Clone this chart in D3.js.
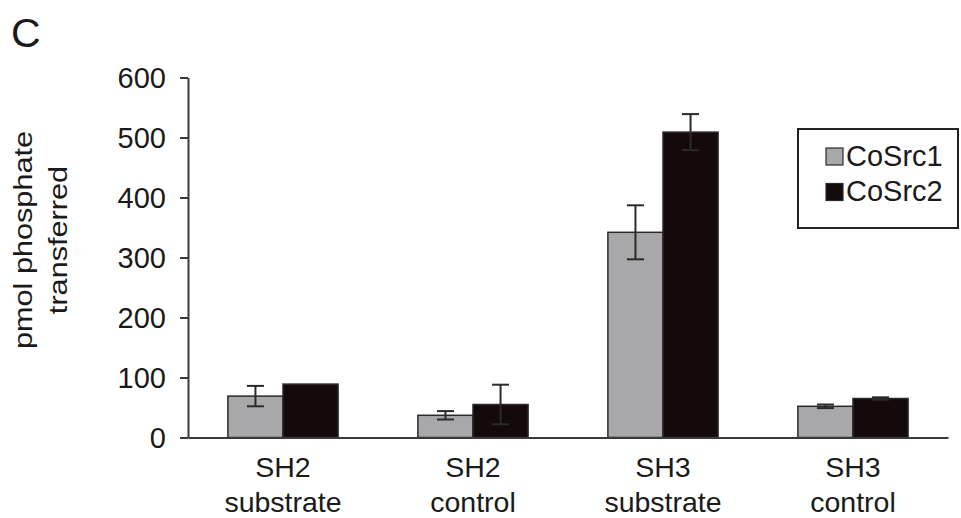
<!DOCTYPE html>
<html>
<head>
<meta charset="utf-8">
<script src="https://cdn.jsdelivr.net/npm/d3@7"></script>
<style>
  html, body { margin: 0; padding: 0; background: #fff; }
  svg { display: block; }
  text { font-family: "Liberation Sans", Arial, Helvetica, sans-serif; fill: #1a1a1a; }
</style>
</head>
<body>
<svg id="chart" width="961" height="518"></svg>
<script>
// Kinase activity toward SH2 / SH3 substrates and controls
const categories = [["SH2", "substrate"], ["SH2", "control"], ["SH3", "substrate"], ["SH3", "control"]];
const seriesNames = ["CoSrc1", "CoSrc2"];
const cosrc1Values = [69, 37, 342, 52];
const cosrc1Errors = [17, 7, 45, 3];
const cosrc2Values = [89, 55, 509, 65];
const cosrc2Errors = [0, 33, 30, 2];
const yTicks = [0, 100, 200, 300, 400, 500, 600];
const yTitle = ["pmol phosphate", "transferred"];
const panelLabel = "C";

const colors = { CoSrc1: "#a8a8ab", CoSrc2: "#140a0b" };

const svg = d3.select("#chart");
const margin = { left: 188, right: 13, top: 77.5, bottom: 80.5 };
const W = 961, H = 518;

const keys = categories.map(c => c.join(" "));
const x0 = d3.scaleBand()
  .domain(keys)
  .range([margin.left, W - margin.right])
  .paddingInner(0.42)
  .paddingOuter(0.21);
const x1 = d3.scaleBand()
  .domain(seriesNames)
  .range([0, x0.bandwidth()]);
const y = d3.scaleLinear()
  .domain([0, 600])
  .range([H - margin.bottom, margin.top]);

const rows = keys.map((k, i) => ({
  key: k,
  label: categories[i],
  bars: [
    { name: "CoSrc1", value: cosrc1Values[i], err: cosrc1Errors[i] },
    { name: "CoSrc2", value: cosrc2Values[i], err: cosrc2Errors[i] }
  ]
}));

// bars
const groups = svg.append("g").selectAll("g")
  .data(rows).join("g")
  .attr("transform", d => `translate(${x0(d.key)},0)`);

groups.selectAll("rect")
  .data(d => d.bars).join("rect")
  .attr("x", d => x1(d.name))
  .attr("y", d => y(d.value))
  .attr("width", x1.bandwidth())
  .attr("height", d => y(0) - y(d.value))
  .attr("fill", d => colors[d.name])
  .attr("stroke", "#2a2a2a")
  .attr("stroke-width", 1.5);

// error bars
const capHalf = 8.5;
const eb = groups.selectAll("g.err")
  .data(d => d.bars.filter(b => b.err > 0)).join("g")
  .attr("class", "err")
  .attr("stroke", "#2a2a2a")
  .attr("stroke-width", 2);
eb.append("line")
  .attr("x1", d => x1(d.name) + x1.bandwidth() / 2)
  .attr("x2", d => x1(d.name) + x1.bandwidth() / 2)
  .attr("y1", d => y(d.value - d.err))
  .attr("y2", d => y(d.value + d.err));
eb.append("line")
  .attr("x1", d => x1(d.name) + x1.bandwidth() / 2 - capHalf)
  .attr("x2", d => x1(d.name) + x1.bandwidth() / 2 + capHalf)
  .attr("y1", d => y(d.value + d.err))
  .attr("y2", d => y(d.value + d.err));
eb.append("line")
  .attr("x1", d => x1(d.name) + x1.bandwidth() / 2 - capHalf)
  .attr("x2", d => x1(d.name) + x1.bandwidth() / 2 + capHalf)
  .attr("y1", d => y(d.value - d.err))
  .attr("y2", d => y(d.value - d.err));

// y axis
const yAxis = svg.append("g")
  .attr("transform", `translate(${margin.left},0)`)
  .call(d3.axisLeft(y).tickValues(yTicks).tickSize(8).tickPadding(14).tickSizeOuter(0));
yAxis.select(".domain").attr("stroke", "#3a3a3a").attr("stroke-width", 2);
yAxis.selectAll(".tick line").attr("stroke", "#3a3a3a").attr("stroke-width", 2);
yAxis.selectAll(".tick text")
  .attr("font-size", 29)
  .attr("font-family", "'Liberation Sans', Arial, sans-serif")
  .attr("fill", "#1a1a1a")
  .attr("dy", "0.36em");

// x axis baseline
const xAxis = svg.append("g")
  .attr("transform", `translate(0,${y(0)})`)
  .call(d3.axisBottom(x0).tickSize(0).tickFormat(""));
xAxis.select(".domain").attr("stroke", "#3a3a3a").attr("stroke-width", 2);

// two-line category labels
const xl = svg.append("g").selectAll("text")
  .data(rows).join("text")
  .attr("text-anchor", "middle")
  .attr("font-size", 28.5)
  .attr("transform", d => `translate(${x0(d.key) + x0.bandwidth() / 2},0)`);
xl.selectAll("tspan")
  .data(d => d.label).join("tspan")
  .attr("x", 0)
  .attr("y", (d, i) => 477 + i * 35)
  .text(d => d);

// y axis title
const yt = svg.append("text")
  .attr("text-anchor", "middle")
  .attr("font-size", 26)
  .attr("transform", "translate(0,240) rotate(-90) scale(1.18,1)");
yt.selectAll("tspan")
  .data(yTitle).join("tspan")
  .attr("x", 0)
  .attr("y", (d, i) => 32 + i * 35)
  .text(d => d);

// panel letter
svg.append("text")
  .attr("x", 11)
  .attr("y", 47)
  .attr("font-size", 41)
  .text(panelLabel);

// legend
const lg = svg.append("g").attr("transform", "translate(798,129)");
lg.append("rect")
  .attr("width", 160).attr("height", 99)
  .attr("fill", "#fff")
  .attr("stroke", "#222").attr("stroke-width", 2);
const items = lg.selectAll("g.item")
  .data(seriesNames).join("g")
  .attr("class", "item")
  .attr("transform", (d, i) => `translate(28,${19 + i * 35.5})`);
items.append("rect")
  .attr("width", 17).attr("height", 17)
  .attr("fill", d => colors[d])
  .attr("stroke", "#2a2a2a").attr("stroke-width", 1.2);
items.append("text")
  .attr("x", 20)
  .attr("y", 17.5)
  .attr("font-size", 29)
  .text(d => d);
</script>
</body>
</html>
